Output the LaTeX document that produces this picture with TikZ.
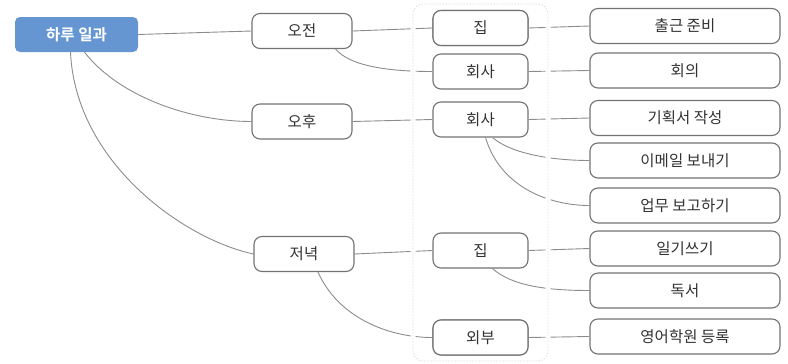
\documentclass[tikz,border=0pt]{standalone}
\usepackage{fontspec}
\setmainfont{Noto Sans CJK KR}
\newfontfamily\kbold{Noto Sans CJK KR Bold}
\begin{document}
\begin{tikzpicture}[x=1pt,y=-1pt,
  box/.style={draw=boxline, line width=1.1pt, rounded corners=8pt, fill=white,
    minimum height=35pt, inner sep=0pt, text=txt, font=\fontsize{15.5}{15.5}\selectfont},
  midbox/.style={box, minimum width=100pt},
  placebox/.style={box, minimum width=95pt},
  leafbox/.style={box, minimum width=190pt},
  rootbox/.style={fill=rootblue, rounded corners=5pt, minimum width=123pt, minimum height=35pt,
    inner sep=0pt, text=white, font=\kbold\fontsize{15.5}{15.5}\selectfont},
  link/.style={draw=wire, line width=0.9pt},
]
\definecolor{boxline}{RGB}{115,115,115}
\definecolor{wire}{RGB}{140,140,140}
\definecolor{txt}{RGB}{50,50,50}
\definecolor{rootblue}{RGB}{102,150,210}
\definecolor{frame}{RGB}{222,224,232}

\useasboundingbox (0,0) rectangle (788,364);

% root
\node[rootbox] (root) at (76.5,34.5) {하루 일과};

% time of day
\node[midbox] (am) at (302,31) {오전};
\node[midbox] (pm) at (302,121.5) {오후};
\node[midbox] (ev) at (304,254) {저녁};

% places
\node[placebox] (p1) at (480.5,28) {집};
\node[placebox] (p2) at (480.5,71.5) {회사};
\node[placebox] (p3) at (480.5,119.5) {회사};
\node[placebox] (p4) at (480.5,250.5) {집};
\node[placebox] (p5) at (480.5,337.5) {외부};

% activities
\node[leafbox] (t1) at (685,26) {출근 준비};
\node[leafbox] (t2) at (685,70.5) {회의};
\node[leafbox] (t3) at (685,118) {기획서 작성};
\node[leafbox] (t4) at (685,160.5) {이메일 보내기};
\node[leafbox] (t5) at (685,205.5) {업무 보고하기};
\node[leafbox] (t6) at (685,248.5) {일기쓰기};
\node[leafbox] (t7) at (685,290.5) {독서};
\node[leafbox] (t8) at (685,336.5) {영어학원 등록};

% connectors
\path[link] (root.east) -- (am.west);
\path[link] ([xshift=8pt]root.south) .. controls +(35,45) and +(-60,0) .. (pm.west);
\path[link] ([xshift=-6pt]root.south) .. controls +(5,110) and +(-70,-15) .. (ev.west);

\path[link] (am.east) -- (p1.west);
\path[link] ([xshift=-17pt]am.south east) .. controls +(15,18) and +(-40,0) .. (p2.west);
\path[link] (pm.east) -- (p3.west);
\path[link] (ev.east) -- (p4.west);
\path[link] ([xshift=14pt]ev.south) .. controls +(20,45) and +(-45,0) .. (p5.west);

\path[link] (p1.east) -- (t1.west);
\path[link] (p2.east) -- (t2.west);
\path[link] (p3.east) -- (t3.west);
\path[link] ([xshift=12pt]p3.south) .. controls +(20,17) and +(-35,0) .. (t4.west);
\path[link] ([xshift=5pt]p3.south) .. controls +(15,50) and +(-40,0) .. (t5.west);
\path[link] (p4.east) -- (t6.west);
\path[link] ([xshift=12pt]p4.south) .. controls +(20,18) and +(-40,0) .. (t7.west);
\path[link] (p5.east) -- (t8.west);

% frame around the place column; its edges cut the crossing lines
\draw[white, line width=5pt, rounded corners=10pt] (413,4) rectangle (548,361);
\draw[frame, line width=0.8pt, dash pattern=on 1.5pt off 1.5pt, rounded corners=10pt] (413,4) rectangle (548,361);

% boxes touching the frame's white band are drawn again on top
\node[placebox] at (p1) {집};
\node[placebox] at (p5) {외부};
\end{tikzpicture}
\end{document}
